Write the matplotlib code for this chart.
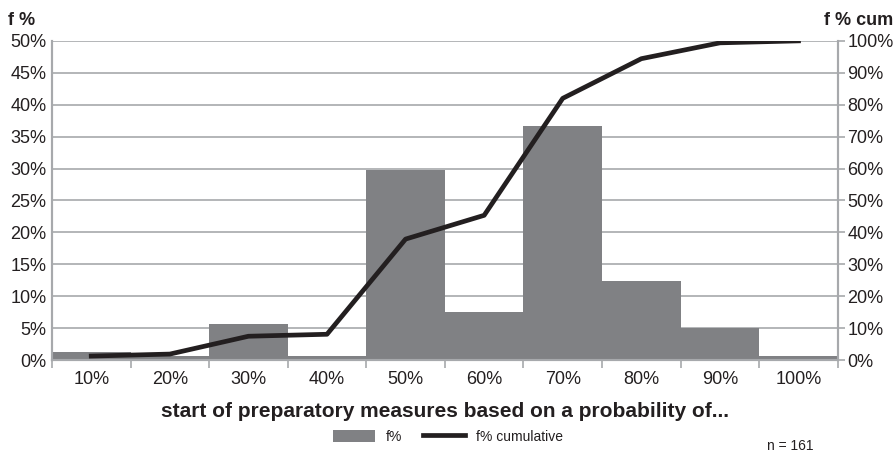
import matplotlib.pyplot as plt
import numpy as np
from matplotlib.ticker import FixedLocator

plt.rcParams['font.family'] = ['Liberation Sans', 'DejaVu Sans']

categories = ['10%', '20%', '30%', '40%', '50%', '60%', '70%', '80%', '90%', '100%']
f_pct = [1.24, 0.62, 5.59, 0.62, 29.81, 7.45, 36.65, 12.42, 4.97, 0.62]
f_cum = [1.24, 1.86, 7.45, 8.07, 37.89, 45.34, 81.99, 94.41, 99.38, 100.0]

text_col = '#231f20'
grid_col = '#a7a9ac'
bar_col = '#808184'

fig = plt.figure(figsize=(8.96, 4.54), dpi=100)
ax1 = fig.add_axes([0.058, 0.207, 0.877, 0.703])
x = np.arange(len(categories))

ax1.bar(x, f_pct, width=1.0, color=bar_col, label='f%', zorder=2)
ax1.set_xlim(-0.5, len(categories) - 0.5)
ax1.set_ylim(0, 50)
ax1.set_yticks(np.arange(0, 51, 5))
ax1.set_yticklabels([f'{v}%' for v in range(0, 51, 5)])
ax1.yaxis.grid(True, color=grid_col, linewidth=1.2, zorder=0)
ax1.set_axisbelow(True)
ax1.set_xticks(x)
ax1.set_xticklabels(categories)
ax1.xaxis.set_minor_locator(FixedLocator(np.arange(-0.5, len(categories), 1)))
ax1.tick_params(axis='x', which='major', length=0, labelsize=13, colors=text_col, pad=8)
ax1.tick_params(axis='x', which='minor', length=6, color=grid_col, width=1.2)
ax1.tick_params(axis='y', length=0, labelsize=13, colors=text_col, pad=4)
for s in ['left', 'bottom', 'right']:
    ax1.spines[s].set_color(grid_col)
    ax1.spines[s].set_linewidth(1.5)
ax1.spines['top'].set_visible(False)

ax2 = ax1.twinx()
ax2.plot(x, f_cum, color=text_col, linewidth=3.4, label='f% cumulative', zorder=3)
ax2.set_ylim(0, 100)
ax2.set_yticks(np.arange(0, 101, 10))
ax2.set_yticklabels([f'{v}%' for v in range(0, 101, 10)])
ax2.tick_params(axis='y', length=5, color=grid_col, width=1.2, labelsize=13, colors=text_col, pad=2)
for s in ['left', 'bottom', 'right']:
    ax2.spines[s].set_color(grid_col)
    ax2.spines[s].set_linewidth(1.5)
ax2.spines['top'].set_visible(False)

ax1.set_xlabel('start of preparatory measures based on a probability of...',
               fontsize=15, fontweight='bold', color=text_col, labelpad=10)

fig.text(0.009, 0.945, 'f %', fontsize=13, fontweight='bold', color=text_col)
fig.text(0.997, 0.945, 'f % cum', fontsize=13, fontweight='bold', color=text_col, ha='right')
fig.text(0.882, 0.003, 'n = 161', fontsize=10, color=text_col, va='bottom', ha='center')

h1, l1 = ax1.get_legend_handles_labels()
h2, l2 = ax2.get_legend_handles_labels()
fig.legend(h1 + h2, l1 + l2, loc='lower center', bbox_to_anchor=(0.5, -0.005), ncol=2,
           frameon=False, fontsize=10, handlelength=3.0, handleheight=0.9,
           columnspacing=1.5, labelcolor=text_col)

fig.savefig('out.png', dpi=100)
